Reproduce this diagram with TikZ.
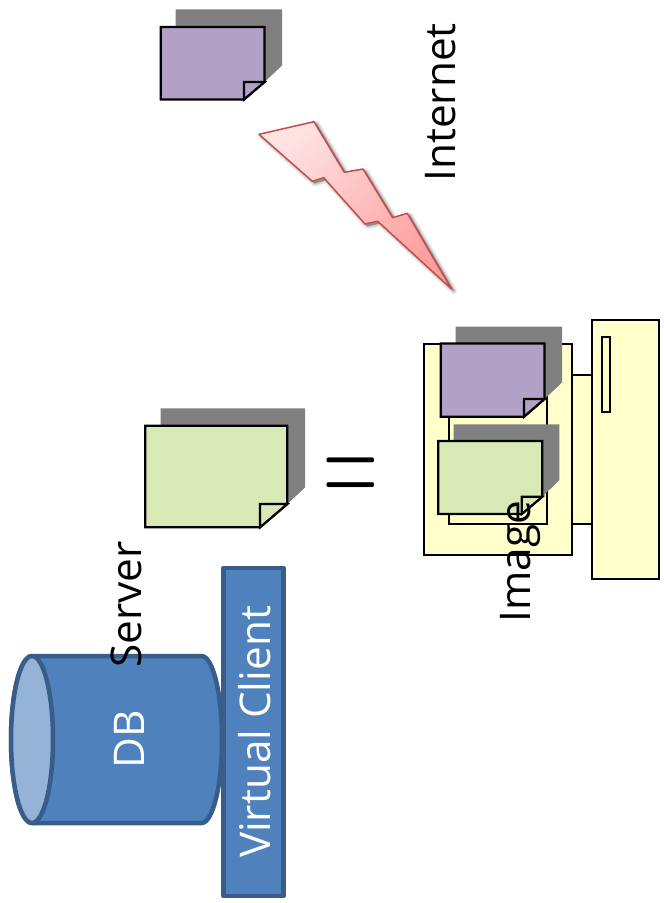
\documentclass[tikz,border=0pt]{standalone}
\usepackage{fontspec}
\setmainfont{Open Sans}
\usetikzlibrary{shadings}
\definecolor{docgray}{HTML}{808080}
\definecolor{docpurple}{HTML}{B2A1C7}
\definecolor{docgreen}{HTML}{D8E9B6}
\definecolor{compyellow}{HTML}{FFFFCC}
\definecolor{dbblue}{HTML}{4F81BD}
\definecolor{dbedge}{HTML}{385D8A}
\definecolor{dbtop}{HTML}{95B3D7}
\definecolor{boltedge}{HTML}{C0504D}
\definecolor{boltlight}{HTML}{FFE2E2}
\definecolor{boltdark}{HTML}{FF9C9C}
\tikzset{
  x=1pt,y=-1pt,
  compbox/.style={draw=black,line width=2pt,fill=compyellow,line join=miter},
  docshadow/.style={fill=docgray,draw=none},
  docface/.style={draw=black,line width=2.2pt,line join=miter},
  rotlabel/.style={rotate=90,anchor=base,inner sep=0pt,font=\fontsize{42.3}{42.3}\selectfont},
  dbshape/.style={draw=dbedge,line width=4.5pt,fill=dbblue,line join=round},
}
% #1 left, #2 right, #3 top, #4 bottom, #5 fold x, #6 fold y, #7 shadow left, #8 shadow right, #9 shadow top
\newcommand{\docpage}[9]{%
  \def\docL{#1}\def\docR{#2}\def\docT{#3}\def\docB{#4}\def\docFx{#5}\def\docFy{#6}%
  \fill[docshadow] (#7,#9) -- (#8,#9) -- (#8,\docFy-16.5) -- (\docR,\docFy) -- (\docR,\docT) -- (#7,\docT) -- cycle;
}
\newcommand{\docface}[1]{%
  \draw[docface,fill=#1] (\docL,\docT) -- (\docR,\docT) -- (\docR,\docFy) -- (\docFx,\docB) -- (\docL,\docB) -- cycle;
  \draw[docface,fill=#1] (\docFx,\docB) -- (\docFx,\docFy) -- (\docR,\docFy) -- cycle;
}
\def\boltpath{(259,134.3) -- (314,121.7) -- (344.3,172.3) -- (363,169) -- (392.7,217.7) -- (407.3,213.3) -- (451.5,289) -- (377.7,221.3) -- (365,224) -- (323.7,177.7) -- (312.3,181.3) -- cycle}
\begin{document}
\begin{tikzpicture}
\useasboundingbox (0,0) rectangle (664,903);
% top purple document
\docpage{160.7}{264.5}{27}{99.5}{244}{82}{175.7}{282}{9.3}
\docface{docpurple}
% bolt
\foreach \w/\o in {7/0.05,5/0.07,3/0.09,1/0.12}{
  \draw[black,opacity=\o,line width=\w pt,line join=round,fill=black,shift={(2.5,2)}] \boltpath;
}
\shade[top color=boltlight,bottom color=boltdark,shading angle=45,draw=boltedge,line width=1.5pt,line join=round] \boltpath;
\node[rotlabel] (internet) at (455,102.5) {Internet};
% computer
\draw[compbox] (591.7,320) rectangle (659,579.3);
\draw[compbox] (602.3,336.7) rectangle (610,411.7);
\draw[compbox] (572.3,375) rectangle (591.7,524);
\draw[compbox] (424.3,344.3) rectangle (572.3,555);
\draw[compbox] (449,375) rectangle (547.3,524);
\docpage{440.7}{544.5}{343.5}{416.7}{524}{399}{455.7}{562}{326.7}
\docface{docpurple}
\docpage{438.3}{542.3}{441}{514}{521.7}{496.7}{453.7}{559.3}{424.3}
\docface{docgreen}
\node[rotlabel] (image) at (530,561.5) {Image};
% big green document
\docpage{145.3}{287.3}{425.7}{527.3}{260}{504}{160.7}{305}{408.3}
\docface{docgreen}
\node[anchor=base,inner sep=0pt] (equals) at (351,507.5) {\scalebox{3.05}[5.6]{\Huge$=$}};
% database
\draw[dbshape] (32,656) -- (201.5,656) .. controls (212.8,656) and (222,693.4) .. (222,739.5) .. controls (222,785.6) and (212.8,823) .. (201.5,823) -- (32,823) .. controls (20.4,823) and (11,785.6) .. (11,739.5) .. controls (11,693.4) and (20.4,656) .. (32,656) -- cycle;
\draw[dbshape,fill=dbtop] (32,739.5) ellipse[x radius=21,y radius=83.5];
\node[rotlabel,text=white] (db) at (144,739) {DB};
\draw[dbshape] (223.5,568) rectangle (283.5,896);
\node[rotlabel,text=white] (virtual) at (270,732) {Virtual Client};
\node[rotlabel] (server) at (141.7,604.5) {Server};
\end{tikzpicture}
\end{document}
